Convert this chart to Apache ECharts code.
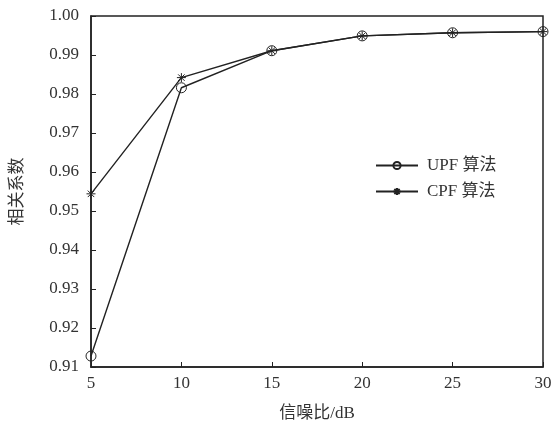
<!DOCTYPE html>
<html><head><meta charset="utf-8">
<script src="https://cdn.jsdelivr.net/npm/echarts@6/dist/echarts.min.js"></script>
<style>html,body{margin:0;padding:0;background:#fff}#c{width:556px;height:427px}</style>
</head><body><div id="c"></div>
<script>
const snr = [5, 10, 15, 20, 25, 30];
const upf = [0.9128, 0.9816, 0.9911, 0.9949, 0.9957, 0.9960];
const cpf = [0.9544, 0.9842, 0.9911, 0.9949, 0.9957, 0.9960];
const seriesNames = ['UPF 算法', 'CPF 算法'];
const xName = '信噪比/dB';
const yName = '相关系数';

const serif = '"Liberation Serif","DejaVu Serif","Noto Sans CJK SC",serif';
const star = 'path://M0,-5L0,5M-5,0L5,0M-3.6,-3.6L3.6,3.6M-3.6,3.6L3.6,-3.6';
const chart = echarts.init(document.getElementById('c'), null, {renderer: 'canvas'});
const axisCommon = {
  axisLine: {onZero: false, lineStyle: {color: '#222', width: 1.5}},
  axisTick: {inside: true, length: 5, lineStyle: {color: '#222', width: 1}},
  splitLine: {show: false},
  axisLabel: {color: '#333', fontFamily: serif, fontSize: 17},
  nameTextStyle: {color: '#333', fontFamily: serif, fontSize: 17}
};
chart.setOption({
  animation: false,
  grid: {left: 91, right: 13, top: 16, bottom: 58, show: true, borderColor: '#222', borderWidth: 1.5},
  xAxis: Object.assign({}, axisCommon, {
    type: 'value', min: 5, max: 30, interval: 5,
    name: xName, nameLocation: 'middle', nameGap: 38,
    axisLabel: Object.assign({}, axisCommon.axisLabel, {margin: 8})
  }),
  yAxis: Object.assign({}, axisCommon, {
    type: 'value', min: 0.91, max: 1.0, interval: 0.01,
    name: yName, nameLocation: 'middle', nameGap: 65,
    axisLabel: Object.assign({}, axisCommon.axisLabel, {margin: 12, formatter: v => v.toFixed(2)})
  }),
  legend: {
    orient: 'vertical', left: 370, top: 152, itemGap: 9, itemWidth: 42, itemHeight: 9,
    textStyle: {color: '#333', fontFamily: serif, fontSize: 17, padding: [0, 0, 0, 4]},
    data: seriesNames
  },
  series: [
    {
      name: seriesNames[0], type: 'line', data: snr.map((x, i) => [x, upf[i]]),
      symbol: 'circle', symbolSize: 10, showSymbol: true,
      lineStyle: {color: '#222', width: 1.4},
      itemStyle: {color: 'rgba(255,255,255,0)', borderColor: '#222', borderWidth: 1}
    },
    {
      name: seriesNames[1], type: 'line', data: snr.map((x, i) => [x, cpf[i]]),
      symbol: star, symbolSize: 9, showSymbol: true,
      lineStyle: {color: '#222', width: 1.4},
      itemStyle: {color: '#222', borderColor: '#222', borderWidth: 1}
    }
  ]
});
</script></body></html>
